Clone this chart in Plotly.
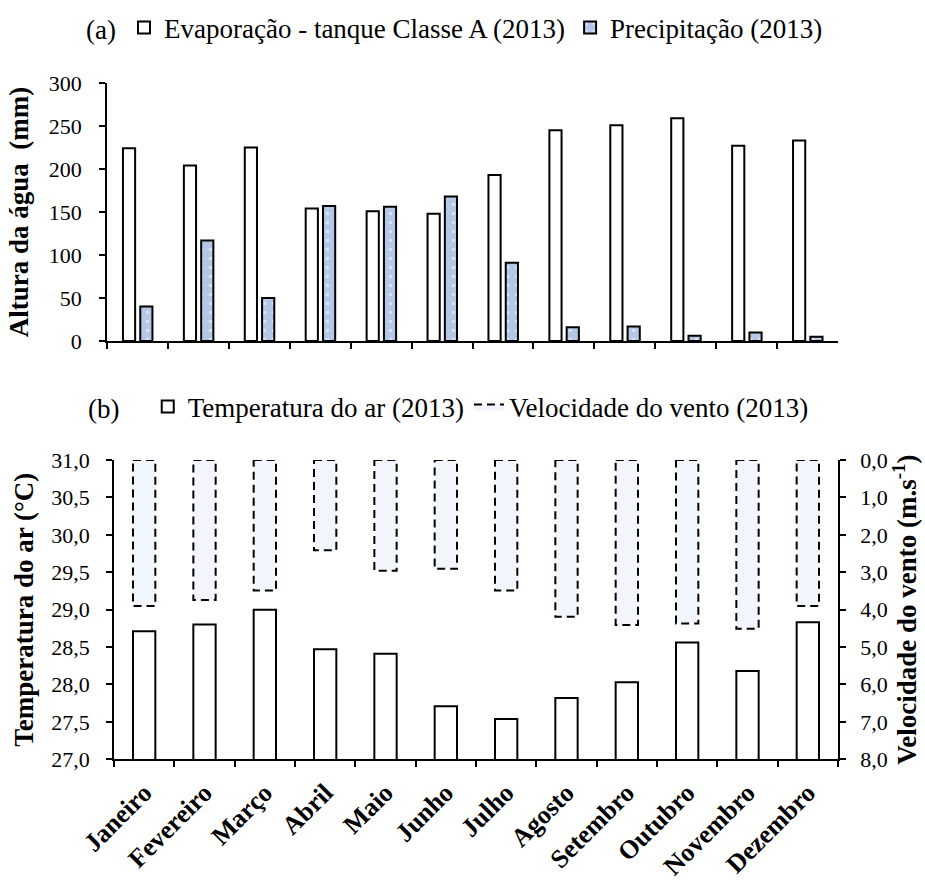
import plotly.graph_objects as go

# Monthly climate data, 2013
meses = ["Janeiro", "Fevereiro", "Março", "Abril", "Maio", "Junho",
         "Julho", "Agosto", "Setembro", "Outubro", "Novembro", "Dezembro"]
evaporacao = [224, 204, 225, 154, 151, 148, 193, 245, 251, 259, 227, 233]   # mm
precipitacao = [40, 117, 50, 157, 156, 168, 91, 16, 17, 6, 10, 5]          # mm
temperatura = [28.71, 28.80, 29.00, 28.47, 28.41, 27.71,
               27.54, 27.82, 28.03, 28.56, 28.18, 28.83]                   # °C
vento = [3.90, 3.74, 3.49, 2.41, 2.96, 2.91,
         3.49, 4.19, 4.41, 4.37, 4.51, 3.90]                               # m/s

W, H = 925, 881
FONTE = "Liberation Serif, Times New Roman, serif"
PRETO = "black"


def fx(p):
    return p / W


def fy(p):
    return 1 - p / H


fig = go.Figure()

# (a) evaporation vs. precipitation
fig.add_trace(go.Bar(
    x=meses, y=evaporacao, name="Evaporação - tanque Classe A (2013)",
    width=0.2, offset=-0.238,
    marker=dict(color="white", line=dict(color=PRETO, width=2)),
    xaxis="x", yaxis="y", legend="legend"))
fig.add_trace(go.Bar(
    x=meses, y=precipitacao, name="Precipitação (2013)",
    width=0.2, offset=0.046,
    marker=dict(color="#b4c7e7", line=dict(color=PRETO, width=2),
                pattern=dict(shape=".", fgcolor="white", bgcolor="#b4c7e7",
                             size=9, solidity=0.12)),
    xaxis="x", yaxis="y", legend="legend"))

# (b) air temperature (left axis) and wind speed (right axis, reversed)
fig.add_trace(go.Bar(
    x=meses, y=temperatura, name="Temperatura do ar (2013)",
    width=0.37,
    marker=dict(color="white", line=dict(color=PRETO, width=2)),
    xaxis="x2", yaxis="y2", legend="legend2"))

# wind bars as closed dashed outlines hanging from the top of the axis
meia = 0.185
vx, vy = [], []
for i, v in enumerate(vento):
    vx += [i - meia, i + meia, i + meia, i - meia, i - meia, None]
    vy += [0, 0, v, v, 0, None]
fig.add_trace(go.Scatter(
    x=vx, y=vy, name="Velocidade do vento (2013)", mode="lines",
    fill="toself", fillcolor="#f2f5fb",
    line=dict(color=PRETO, width=2, dash="8px,5px"),
    xaxis="x3", yaxis="y3", legend="legend2", hoverinfo="skip"))

tick_font = dict(family=FONTE, size=22, color=PRETO)
title_font = dict(family=FONTE, size=27, color=PRETO, weight="bold")
legend_font = dict(family=FONTE, size=27, color=PRETO)
mes_font = dict(family=FONTE, size=26, color=PRETO, weight="bold")


def eixo(fonte=tick_font):
    return dict(showline=True, linecolor=PRETO, linewidth=1.5,
                ticks="outside", ticklen=6, tickwidth=1.5, tickcolor=PRETO,
                showgrid=False, zeroline=False, automargin=False,
                tickfont=fonte)


fig.update_layout(
    width=W, height=H,
    margin=dict(l=0, r=0, t=0, b=0),
    paper_bgcolor="white", plot_bgcolor="white",
    font=dict(family=FONTE, color=PRETO),
    separators=", ",
    showlegend=True,
    xaxis=dict(**eixo(), domain=[fx(107), fx(838)], anchor="y",
               type="category", tickson="boundaries", showticklabels=False),
    yaxis=dict(**eixo(), domain=[fy(341), fy(83)], anchor="x",
               range=[0, 300], dtick=50, ticklabelstandoff=13,
               title=dict(text="Altura da água\u00a0 (mm)", font=title_font,
                          standoff=12)),
    xaxis2=dict(**eixo(mes_font), domain=[fx(114), fx(838)], anchor="y2",
                type="category", tickson="boundaries", tickangle=-45,
                ticklabelstandoff=6),
    yaxis2=dict(**eixo(), domain=[fy(759.3), fy(460)], anchor="x2",
                range=[27, 31], dtick=0.5, tickformat=".1f",
                ticklabelstandoff=12,
                title=dict(text="Temperatura do ar (°C)", font=title_font,
                           standoff=10)),
    xaxis3=dict(domain=[fx(114), fx(838)], overlaying="x2", anchor="y3",
                range=[-0.5, 11.5], visible=False, automargin=False),
    yaxis3=dict(**eixo(), overlaying="y2", side="right", anchor="x2",
                range=[8, 0], dtick=1, tickformat=".1f",
                ticklabelstandoff=10,
                title=dict(text="Velocidade do vento (m.s<sup>-1</sup>)",
                           font=title_font, standoff=8)),
    legend=dict(orientation="h", x=fx(84), xanchor="left",
                y=fy(28), yanchor="middle", bgcolor="rgba(0,0,0,0)",
                font=legend_font,
                title=dict(text="(a)", side="left", font=legend_font)),
    legend2=dict(orientation="h", x=fx(86), xanchor="left",
                 y=fy(407), yanchor="middle", bgcolor="rgba(0,0,0,0)",
                 font=legend_font,
                 title=dict(text="(b)\u00a0\u00a0\u00a0", side="left",
                            font=legend_font)),
)

fig.write_html("out.html")
